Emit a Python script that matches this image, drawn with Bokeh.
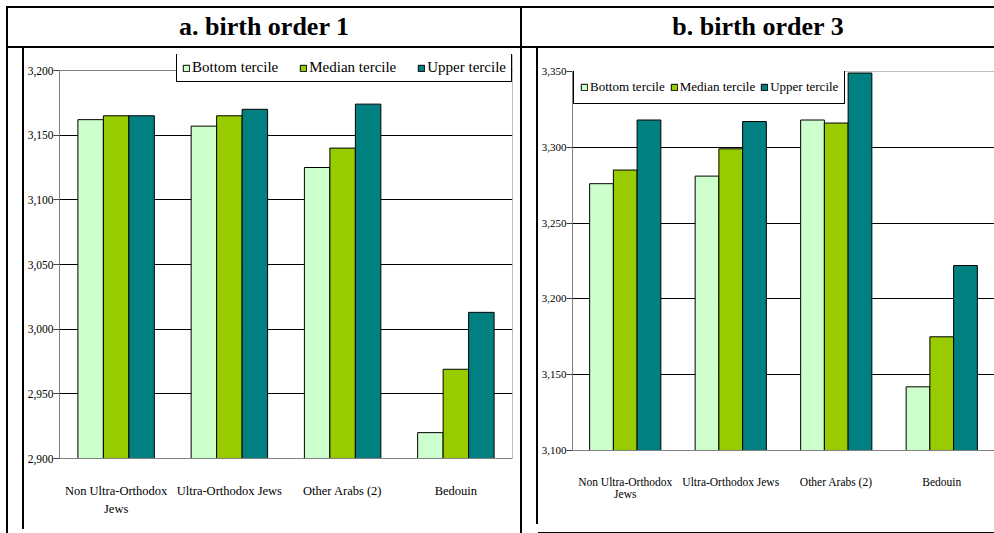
from bokeh.plotting import figure
from bokeh.models import (Range1d, FactorRange, NumeralTickFormatter, FixedTicker, Div, Span,
                          CategoricalAxis, Legend)
from bokeh.layouts import row, column
from bokeh.transform import dodge
from bokeh.embed import file_html
from bokeh.resources import INLINE

# ---------------- data ----------------
# category labels (first line; the first one wraps onto a second line "Jews")
groups = ["Non Ultra-Orthodox", "Ultra-Orthodox Jews", "Other Arabs (2)", "Bedouin"]
label_line2 = ["Jews", " ", "  ", "   "]
terciles = ["Bottom tercile", "Median tercile", "Upper tercile"]
colors = ["#CCFFCC", "#99CC00", "#008080"]

titles = ["a. birth order 1", "b. birth order 3"]

a_bottom = [3162, 3157, 3125, 2920]
a_median = [3165, 3165, 3140, 2969]
a_upper = [3165, 3170, 3174, 3013]
a_ticks = [2900, 2950, 3000, 3050, 3100, 3150, 3200]

b_bottom = [3276, 3281, 3318, 3142]
b_median = [3285, 3299, 3316, 3175]
b_upper = [3318, 3317, 3349, 3222]
b_ticks = [3100, 3150, 3200, 3250, 3300, 3350]

FONT = "Liberation Serif"
GRAY = "#808080"


def line_div(w, h, rects):
    inner = "".join(
        f'<div style="position:absolute;left:{l}px;top:{t}px;width:{rw}px;height:{rh}px;background:#000"></div>'
        for (l, t, rw, rh) in rects)
    return Div(text=f'<div style="position:relative;width:{w}px;height:{h}px;overflow:hidden">{inner}</div>',
               width=w, height=h, margin=0)


def header_div(w, txt):
    html = (f'<div style="box-sizing:border-box;width:{w}px;height:42px;border-top:2px solid #000;'
            f'border-left:2px solid #000;border-bottom:2px solid #000;display:flex;align-items:center;'
            f'justify-content:center;font-family:\'{FONT}\';font-weight:bold;font-size:26px;color:#000">{txt}</div>')
    return Div(text=html, width=w, height=42, margin=0)


def make_chart(w, h, borders, y_end, ticks, series, tick_size, cat_size, leg_size, leg_loc,
               leg_spacing, leg_pad, leg_label_h, standoff, standoff2, right_line):
    p = figure(x_range=FactorRange(*groups), y_range=Range1d(ticks[0], y_end), width=w, height=h,
               output_backend="svg", toolbar_location=None, margin=0,
               min_border_left=borders[0], min_border_right=borders[1],
               min_border_top=borders[2], min_border_bottom=borders[3])
    p.extra_x_ranges = {"line2": FactorRange(*label_line2)}
    src = {"g": groups, "b": series[0], "m": series[1], "u": series[2]}
    offs = [-0.225, 0.0, 0.225]
    for key, off, col, lab in zip(["b", "m", "u"], offs, colors, terciles):
        p.vbar(x=dodge("g", off, range=p.x_range), top=key, bottom=ticks[0], width=0.225,
               source=src, fill_color=col, line_color="#000000", line_width=1, legend_label=lab)

    p.background_fill_color = "white"
    p.border_fill_color = "white"
    p.outline_line_color = None
    p.xgrid.grid_line_color = None
    p.ygrid.grid_line_color = "#000000"
    p.ygrid.ticker = FixedTicker(ticks=ticks)

    ya = p.yaxis[0]
    ya.ticker = FixedTicker(ticks=ticks)
    ya.bounds = (ticks[0], ticks[-1])
    ya.formatter = NumeralTickFormatter(format="0,0")
    ya.axis_line_color = GRAY
    ya.major_tick_line_color = "#404040"
    ya.major_tick_out = 6
    ya.major_tick_in = 0
    ya.minor_tick_line_color = None
    ya.major_label_standoff = 0
    ya.major_label_text_font = FONT
    ya.major_label_text_font_size = tick_size
    ya.major_label_text_color = "#000000"

    xa = p.xaxis[0]
    xa.axis_line_color = GRAY
    xa.major_tick_line_color = None
    xa.major_tick_out = 0
    xa.major_tick_in = 0
    xa.minor_tick_line_color = None
    xa.major_label_standoff = standoff
    xa.major_label_text_font = FONT
    xa.major_label_text_font_size = cat_size
    xa.major_label_text_color = "#000000"

    xa2 = CategoricalAxis(x_range_name="line2", axis_line_color=None, major_tick_line_color=None,
                          minor_tick_line_color=None, major_tick_out=0, major_tick_in=0,
                          major_label_standoff=standoff2, major_label_text_font=FONT,
                          major_label_text_font_size=cat_size, major_label_text_color="#000000")
    p.add_layout(xa2, "below")

    # plot-area border (gray) at the top of the value scale, and right edge if visible
    p.add_layout(Span(location=ticks[-1], dimension="width", line_color=GRAY, line_width=1))
    if right_line:
        p.add_layout(Span(location=len(groups), dimension="height", line_color=GRAY, line_width=1))

    lg = p.legend[0]
    lg.location = leg_loc
    lg.orientation = "horizontal"
    lg.border_line_color = "#000000"
    lg.border_line_width = 1
    lg.border_line_alpha = 1
    lg.background_fill_color = "white"
    lg.background_fill_alpha = 1
    lg.label_text_font = FONT
    lg.label_text_font_size = leg_size
    lg.label_text_color = "#000000"
    lg.glyph_width = 8
    lg.glyph_height = 8
    lg.label_standoff = 2
    lg.label_height = leg_label_h
    lg.spacing = leg_spacing
    lg.padding = leg_pad
    lg.margin = 0
    # legend drawn last (over the border lines)
    p.center = [r for r in p.center if not isinstance(r, Legend)] + [lg]
    return p


# chart a: frame extends a little above 3,200 so that the legend box (which sits above
# the plot area in the original) is not clipped
a_px_per_unit = 388 / (a_ticks[-1] - a_ticks[0])
a_frame_h = 404
a_y_end = a_ticks[0] + a_frame_h / a_px_per_unit

fig_a = make_chart(496, 479, (34, 8, 6, 69), a_y_end, ticks=a_ticks,
                   series=(a_bottom, a_median, a_upper), tick_size="11.5px", cat_size="12.5px",
                   leg_size="15px", leg_loc=(117, 376), leg_spacing=21, leg_pad=5, leg_label_h=17,
                   standoff=25, standoff2=1, right_line=True)
fig_b = make_chart(456, 474, (32, 0, 23, 72), b_ticks[-1], ticks=b_ticks,
                   series=(b_bottom, b_median, b_upper), tick_size="11px", cat_size="11.5px",
                   leg_size="13px", leg_loc=(1, 346), leg_spacing=5, leg_pad=6, leg_label_h=20,
                   standoff=25, standoff2=-3, right_line=False)

header = row(header_div(514, titles[0]), header_div(474, titles[1]), margin=0)
left_div = line_div(18, 485, [(0, 0, 2, 485), (16, 0, 2, 481)])
mid_div = line_div(18, 485, [(0, 0, 2, 485), (16, 0, 2, 476)])
col_a = column(fig_a, line_div(496, 2, [(0, 0, 496, 2)]), margin=0)
col_b = column(fig_b, line_div(456, 2, [(0, 0, 456, 2)]), margin=0)
body = row(left_div, col_a, mid_div, col_b, margin=0)
root = column(header, body, margin=0, styles={"margin": "6px 0 0 6px"})

open("out.html", "w").write(file_html(root, INLINE))
